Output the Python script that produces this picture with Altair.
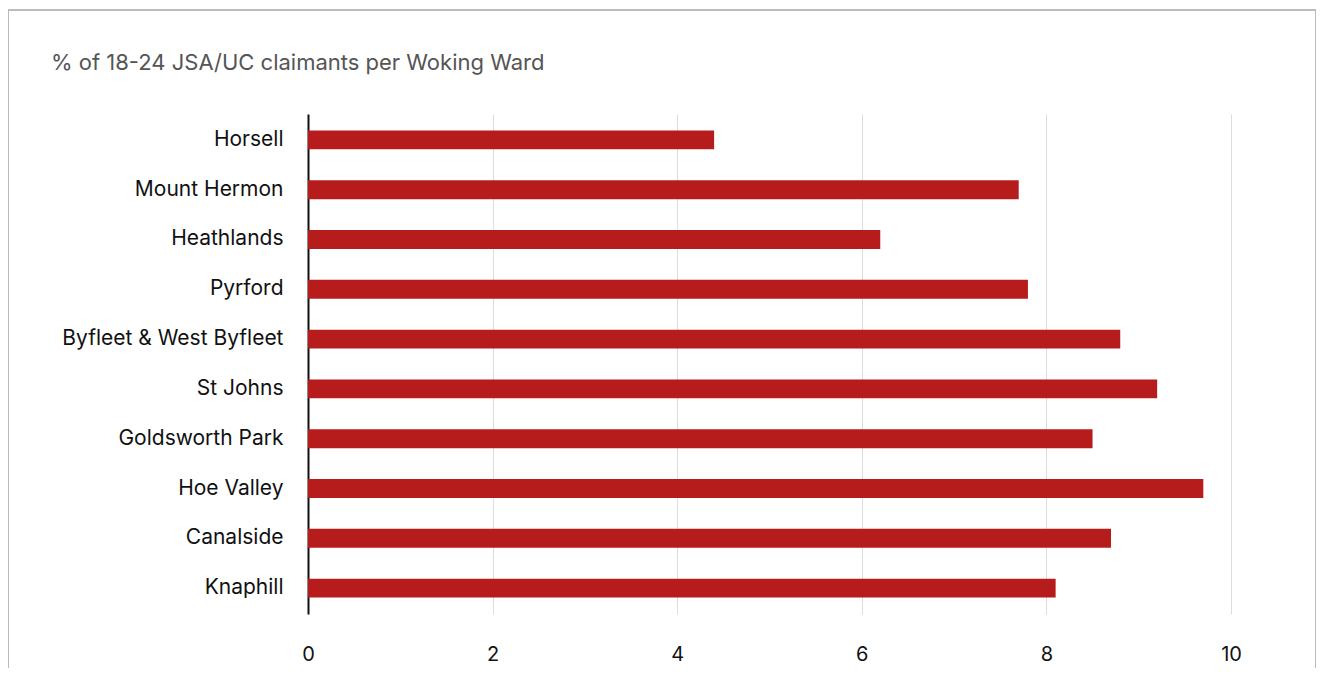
import altair as alt
import pandas as pd

wards = ["Horsell", "Mount Hermon", "Heathlands", "Pyrford", "Byfleet & West Byfleet",
         "St Johns", "Goldsworth Park", "Hoe Valley", "Canalside", "Knaphill"]
values = [4.4, 7.7, 6.2, 7.8, 8.8, 9.2, 8.5, 9.7, 8.7, 8.1]
title_text = "% of 18-24 JSA/UC claimants per Woking Ward"

df = pd.DataFrame({"ward": wards, "value": values})

FONT = "Inter"
W, H = 923, 500

bars = alt.Chart(df).mark_bar(color="#B71C1C").encode(
    x=alt.X("value:Q", scale=alt.Scale(domain=[0, 10], nice=False),
            axis=alt.Axis(values=[0, 2, 4, 6, 8, 10], title=None, domain=False, ticks=False,
                          grid=True, gridColor="#dddddd", gridWidth=1, labelFlush=False,
                          labelFontSize=20, labelColor="#111111", labelFont=FONT,
                          labelPadding=30)),
    y=alt.Y("ward:N", sort=wards,
            scale=alt.Scale(paddingInner=0.62, paddingOuter=0.33),
            axis=alt.Axis(title=None, domain=True, domainColor="#111111", domainWidth=2,
                          ticks=False, grid=False, labelFontSize=21, labelColor="#111111",
                          labelFont=FONT, labelPadding=25, labelLimit=400)),
)

title = alt.Chart(pd.DataFrame({"t": [title_text]})).mark_text(
    align="left", baseline="middle", fontSize=22, color="#555555", font=FONT
).encode(x=alt.value(-257), y=alt.value(-51), text="t:N")

border = alt.Chart(pd.DataFrame({"b": [0]})).mark_rect(
    fill=None, stroke="#bbbbbb", strokeWidth=2, clip=False
).encode(x=alt.value(-300), x2=alt.value(1008), y=alt.value(-104), y2=alt.value(600))

chart = alt.layer(border, bars, title).properties(
    width=W, height=H,
    background="white",
    autosize=alt.AutoSizeParams(type="none"),
    padding={"left": 300, "top": 106, "right": 85, "bottom": 54},
).configure_view(strokeWidth=0, stroke=None)

chart.save("out.html", embed_options={"renderer": "svg", "actions": False})
